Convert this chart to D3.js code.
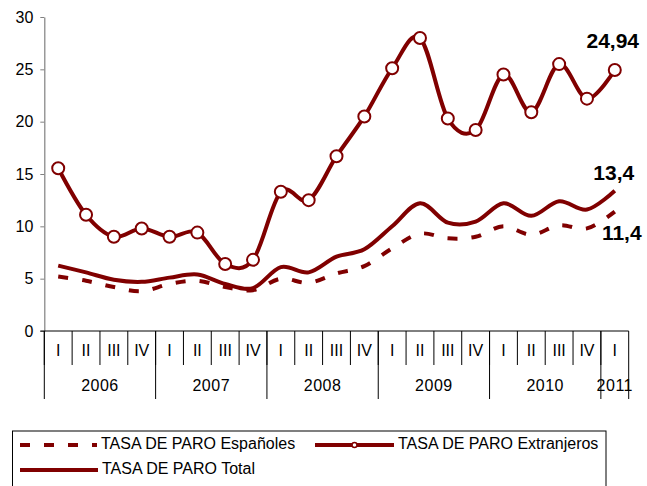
<!DOCTYPE html>
<html>
<head>
<meta charset="utf-8">
<script src="https://cdn.jsdelivr.net/npm/d3@7"></script>
<style>
  body { margin: 0; background: #fff; }
  svg { display: block; font-family: "Liberation Sans", Arial, sans-serif; }
</style>
</head>
<body>
<div id="chart"></div>
<script>
// data
const years = ["2006", "2007", "2008", "2009", "2010", "2011"]
const quarters = ["I", "II", "III", "IV"]
// quarter counts per year (2011 only has I)
const yearQuarters = [4, 4, 4, 4, 4, 1]

const extranjeros = [15.55, 11.1, 9.0, 9.8, 9.0, 9.4, 6.4, 6.8, 13.3, 12.5, 16.7, 20.5,
    25.1, 28.0, 20.3, 19.2, 24.5, 20.9, 25.5, 22.2, 24.94]
const total = [6.25, 5.6, 4.9, 4.7, 5.1, 5.4, 4.5, 4.1, 6.1, 5.6, 7.1, 7.8,
    10.0, 12.2, 10.35, 10.45, 12.2, 11.0, 12.4, 11.6, 13.4]
const espanoles = [5.2, 4.8, 4.2, 3.8, 4.5, 4.8, 4.2, 3.9, 5.0, 4.6, 5.5, 6.2,
    7.9, 9.3, 8.85, 9.0, 10.0, 9.2, 10.1, 9.8, 11.4]
const yTicks = [0, 5, 10, 15, 20, 25, 30]
const lastLabels = ["24,94", "13,4", "11,4"]

// build category list: one per quarter
const cats = []
years.forEach((yr, i) => {
    for (let q = 0; q < yearQuarters[i]; q++) cats.push({ id: yr + "-" + q, year: yr, q: quarters[q] })
})

const W = 647, H = 486
const plot = { left: 44.3, right: 628.7, top: 17, bottom: 331 }
const red = "#800000"

const svg = d3.select("#chart").append("svg")
    .attr("width", W)
    .attr("height", H)

const x = d3.scaleBand()
    .domain(cats.map(d => d.id))
    .range([plot.left, plot.right])
    .padding(0)
const cx = i => x(cats[i].id) + x.bandwidth() / 2

const y = d3.scaleLinear()
    .domain([0, 30])
    .range([plot.bottom, plot.top])

// y axis
const yAxis = svg.append("g")
    .attr("transform", `translate(${plot.left},0)`)
    .call(d3.axisLeft(y).tickValues(yTicks).tickSize(4).tickPadding(7).tickSizeOuter(0))
yAxis.select(".domain").attr("stroke", "#808080").attr("stroke-width", 1.2)
yAxis.selectAll(".tick line").attr("stroke", "#808080")
yAxis.selectAll("text")
    .attr("font-size", 16)
    .attr("fill", "#000")
    .attr("font-family", "Liberation Sans, Arial, sans-serif")

// x axis baseline
svg.append("line")
    .attr("x1", plot.left - 4).attr("x2", plot.right)
    .attr("y1", plot.bottom).attr("y2", plot.bottom)
    .attr("stroke", "#000").attr("stroke-width", 1)

// quarter separators and labels
const qRowBottom = 365, yRowBottom = 399
cats.forEach((c, i) => {
    svg.append("line")
        .attr("x1", x(c.id)).attr("x2", x(c.id))
        .attr("y1", plot.bottom).attr("y2", qRowBottom)
        .attr("stroke", "#000")
    svg.append("text")
        .attr("x", cx(i)).attr("y", 352)
        .attr("text-anchor", "middle")
        .attr("dominant-baseline", "middle")
        .attr("font-size", 16)
        .text(c.q)
})

// year separators and labels
let start = 0
years.forEach((yr, i) => {
    const x0 = x(cats[start].id)
    const x1 = x(cats[start + yearQuarters[i] - 1].id) + x.bandwidth()
    svg.append("line")
        .attr("x1", x0).attr("x2", x0)
        .attr("y1", plot.bottom).attr("y2", yRowBottom)
        .attr("stroke", "#000")
    svg.append("text")
        .attr("x", (x0 + x1) / 2).attr("y", 387)
        .attr("text-anchor", "middle")
        .attr("dominant-baseline", "middle")
        .attr("font-size", 16)
        .attr("letter-spacing", 0.5)
        .text(yr)
    start += yearQuarters[i]
})
svg.append("line")
    .attr("x1", plot.right).attr("x2", plot.right)
    .attr("y1", plot.bottom).attr("y2", yRowBottom)
    .attr("stroke", "#000")

// lines (Excel-like smoothing)
const line = d3.line()
    .x((d, i) => cx(i))
    .y(d => y(d))
    .curve(d3.curveCatmullRom.alpha(0))

svg.append("path")
    .datum(espanoles)
    .attr("d", line)
    .attr("fill", "none")
    .attr("stroke", red)
    .attr("stroke-width", 4)
    .attr("stroke-dasharray", "10,14")

svg.append("path")
    .datum(total)
    .attr("d", line)
    .attr("fill", "none")
    .attr("stroke", red)
    .attr("stroke-width", 4)

svg.append("path")
    .datum(extranjeros)
    .attr("d", line)
    .attr("fill", "none")
    .attr("stroke", red)
    .attr("stroke-width", 4)

svg.selectAll("circle.m")
    .data(extranjeros)
    .join("circle")
    .attr("class", "m")
    .attr("cx", (d, i) => cx(i))
    .attr("cy", d => y(d))
    .attr("r", 6)
    .attr("fill", "#fff")
    .attr("stroke", red)
    .attr("stroke-width", 2)

// labels for last values
const last = cats.length - 1
const labelSpecs = [
    { v: extranjeros[last], dx: -2, dy: -22 },
    { v: total[last], dx: -1, dy: -11 },
    { v: espanoles[last], dx: 7, dy: 28 }
]
labelSpecs.forEach((s, i) => {
    svg.append("text")
        .attr("x", cx(last) + s.dx)
        .attr("y", y(s.v) + s.dy)
        .attr("text-anchor", "middle")
        .attr("font-size", 21)
        .attr("font-weight", "bold")
        .text(lastLabels[i])
})

// legend
const legend = svg.append("g")
legend.append("rect")
    .attr("x", 12.5).attr("y", 431)
    .attr("width", 593.5).attr("height", 70)
    .attr("fill", "#fff")
    .attr("stroke", "#000")
    .attr("stroke-width", 1)

const legendItems = [
    { name: "TASA DE PARO Españoles", x0: 20, x1: 97, y: 445, dash: "10,14", marker: false },
    { name: "TASA DE PARO Extranjeros", x0: 315, x1: 394, y: 445, dash: null, marker: true },
    { name: "TASA DE PARO Total", x0: 20, x1: 98, y: 470, dash: null, marker: false }
]
legendItems.forEach(it => {
    legend.append("line")
        .attr("x1", it.x0).attr("x2", it.x1)
        .attr("y1", it.y).attr("y2", it.y)
        .attr("stroke", red)
        .attr("stroke-width", 4)
        .attr("stroke-dasharray", it.dash)
    if (it.marker) {
        legend.append("circle")
            .attr("cx", (it.x0 + it.x1) / 2).attr("cy", it.y)
            .attr("r", 2.5)
            .attr("fill", "#fff")
            .attr("stroke", red)
            .attr("stroke-width", 1.5)
    }
    legend.append("text")
        .attr("x", it.x1 + 4).attr("y", it.y)
        .attr("dominant-baseline", "middle")
        .attr("font-size", 16)
        .text(it.name)
})
</script>
</body>
</html>
